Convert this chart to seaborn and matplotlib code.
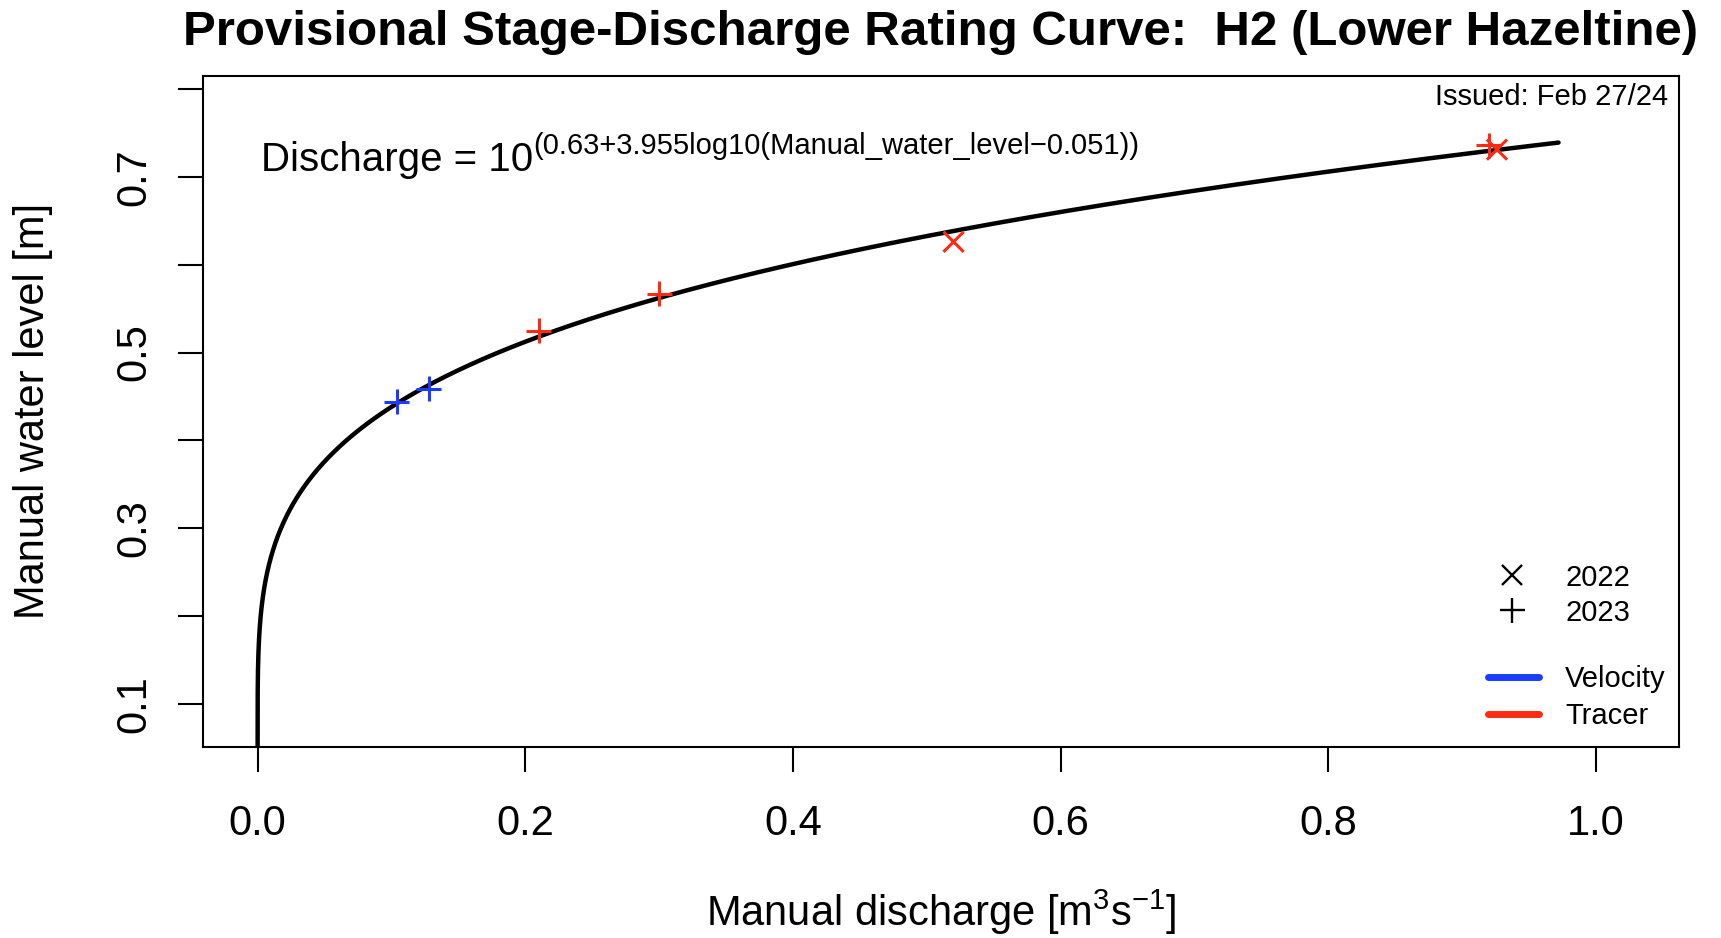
import numpy as np
import pandas as pd
import matplotlib
matplotlib.use("Agg")
import matplotlib.pyplot as plt
from matplotlib.lines import Line2D
import seaborn as sns

# ---- data ----
discharge = [0.104, 0.128, 0.210, 0.300, 0.520, 0.920, 0.926]
water_level = [0.444, 0.459, 0.525, 0.567, 0.626, 0.736, 0.731]
year = [2023, 2023, 2023, 2023, 2022, 2023, 2022]
method = ["Velocity", "Velocity", "Tracer", "Tracer", "Tracer", "Tracer", "Tracer"]

# rating curve coefficients (from the equation on the chart)
coef_a = 0.63
coef_b = 3.955
offset_h = 0.051
curve_h_max = 0.739

x_ticks = [0.0, 0.2, 0.4, 0.6, 0.8, 1.0]
x_tick_labels = ["0.0", "0.2", "0.4", "0.6", "0.8", "1.0"]
y_ticks = [0.1, 0.2, 0.3, 0.4, 0.5, 0.6, 0.7, 0.8]
y_tick_labels = ["0.1", "", "0.3", "", "0.5", "", "0.7", ""]

method_colors = {"Velocity": "#1a3cff", "Tracer": "#ff2a14"}
year_markers = {2022: "x", 2023: "+"}

sns.set_style("ticks")
plt.rcParams["font.family"] = ["Liberation Sans", "DejaVu Sans"]
plt.rcParams["mathtext.fontset"] = "custom"
plt.rcParams["mathtext.rm"] = "Liberation Sans"
plt.rcParams["mathtext.it"] = "Liberation Sans"
plt.rcParams["mathtext.bf"] = "Liberation Sans:bold"
plt.rcParams["text.color"] = "black"
plt.rcParams["axes.labelcolor"] = "black"

df = pd.DataFrame({"discharge": discharge, "level": water_level,
                   "year": year, "method": method})

h = np.linspace(offset_h, curve_h_max, 3000)
q = 10 ** coef_a * (h - offset_h) ** coef_b
curve = pd.DataFrame({"q": q, "h": h})

fig = plt.figure(figsize=(17.21, 9.38), dpi=100)
ax = fig.add_axes([0.1178, 0.2040, 0.9756 - 0.1178, 0.9190 - 0.2040])

sns.lineplot(data=curve, x="q", y="h", sort=False, estimator=None,
             color="black", linewidth=3.2, ax=ax, legend=False)

for yr, msize in [(2023, 18), (2022, 14.5)]:
    sub = df[df["year"] == yr]
    sns.scatterplot(data=sub, x="discharge", y="level", hue="method",
                    palette=method_colors, marker=year_markers[yr],
                    s=msize ** 2, linewidth=2.2, ax=ax, legend=False, zorder=3)

ax.set_xlim(-0.041, 1.062)
ax.set_ylim(0.0514, 0.8148)
ax.set_xticks(x_ticks)
ax.set_xticklabels(x_tick_labels)
ax.set_yticks(y_ticks)
ax.set_yticklabels(y_tick_labels, rotation=90, va="center")
ax.tick_params(axis="both", length=18, width=1.5, labelsize=30,
               color="black", labelcolor="black")
ax.tick_params(axis="x", pad=23)
ax.tick_params(axis="y", pad=17)
for sp in ax.spines.values():
    sp.set_visible(True)
    sp.set_linewidth(1.5)
    sp.set_color("black")

ax.set_xlabel(r"Manual discharge [m$^{3}$s$^{-1}$]", fontsize=30, labelpad=32)
ax.set_ylabel("Manual water level [m]", fontsize=30, labelpad=44)

ax.set_title("Provisional Stage-Discharge Rating Curve:  H2 (Lower Hazeltine)",
             fontsize=35.5, fontweight="bold", pad=22)

main_eq = ax.text(0.0395, 0.875, "Discharge = 10",
                  transform=ax.transAxes, fontsize=29, ha="left", va="center")
ax.annotate("(0.63+3.955log10(Manual_water_level\u22120.051))",
            xy=(1.0, 0.5), xycoords=main_eq, fontsize=21,
            ha="left", va="bottom")
ax.text(0.9925, 0.969, "Issued: Feb 27/24", transform=ax.transAxes,
        fontsize=21, ha="right", va="center")

# legends
year_handles = [Line2D([], [], ls="", marker="x", color="black", ms=14.5, mew=1.7),
                Line2D([], [], ls="", marker="+", color="black", ms=18, mew=1.7)]
leg1 = ax.legend(year_handles, ["2022", "2023"], loc="upper left",
                 bbox_to_anchor=(0.8785, 0.273), frameon=False, fontsize=21,
                 handlelength=0.86, handletextpad=1.39, borderpad=0,
                 borderaxespad=0, labelspacing=0.24)
ax.add_artist(leg1)
method_handles = [Line2D([], [], color=method_colors["Velocity"], lw=5, solid_capstyle="round"),
                  Line2D([], [], color=method_colors["Tracer"], lw=5, solid_capstyle="round")]
ax.legend(method_handles, ["Velocity", "Tracer"], loc="upper left",
          bbox_to_anchor=(0.8703, 0.121), frameon=False, fontsize=21,
          handlelength=1.75, handletextpad=0.91, borderpad=0,
          borderaxespad=0, labelspacing=0.3)

fig.savefig("out.png", dpi=100)
